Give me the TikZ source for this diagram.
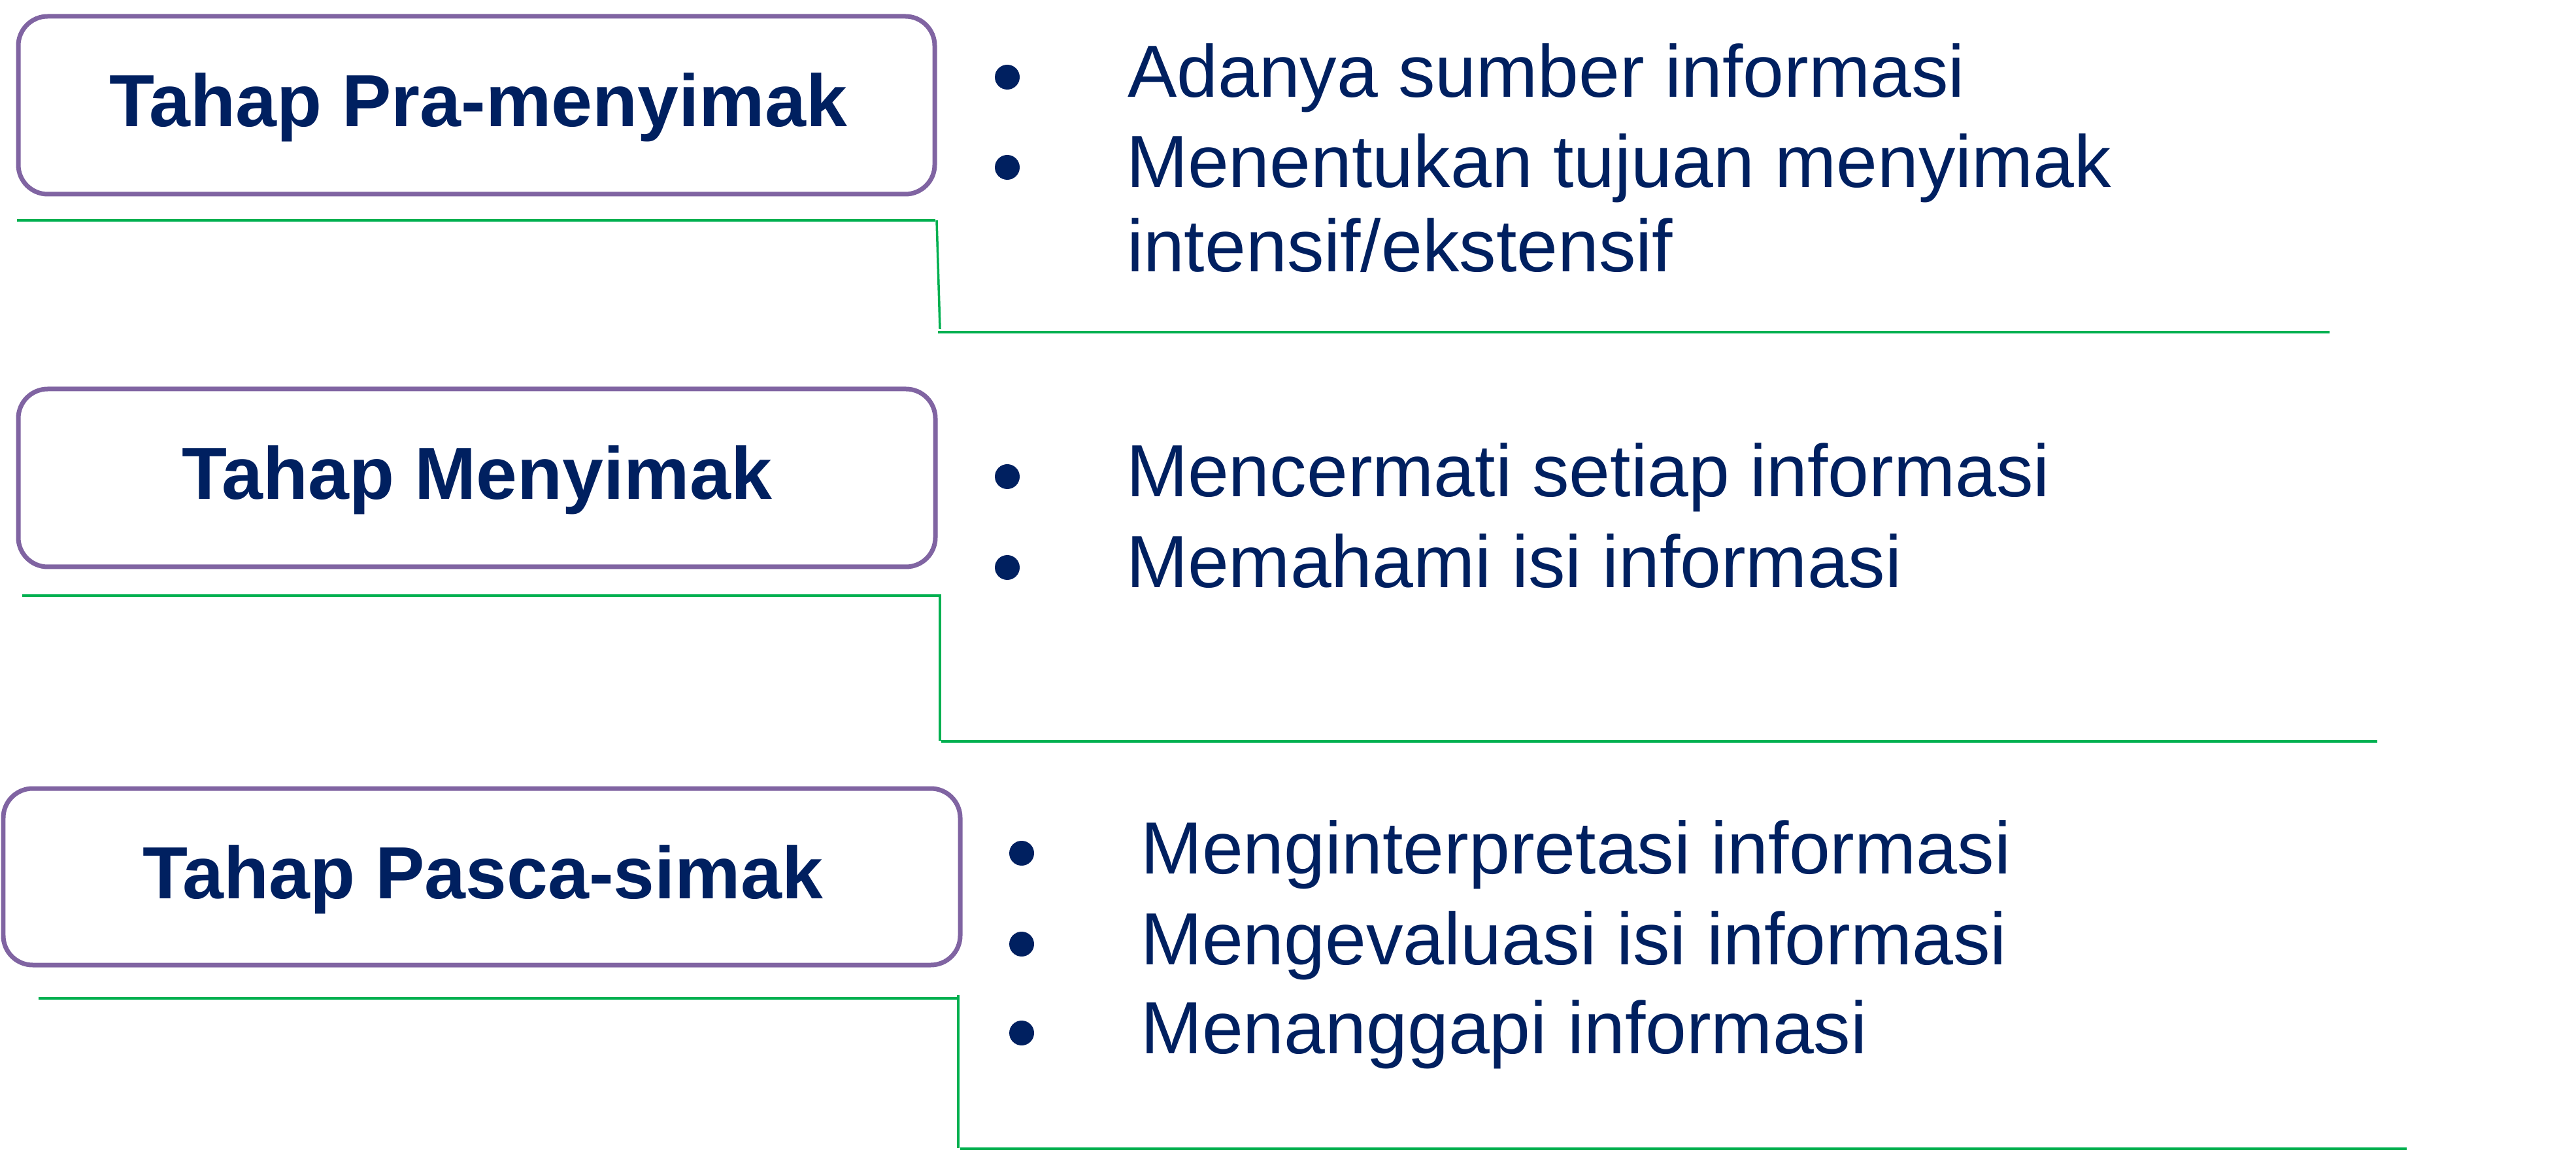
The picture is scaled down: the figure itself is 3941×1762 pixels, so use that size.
\documentclass[tikz,border=0pt]{standalone}
\usepackage{fontspec}
\setmainfont{Liberation Sans}
\definecolor{navy}{RGB}{0,32,96}
\definecolor{boxpurple}{RGB}{128,100,162}
\definecolor{linegreen}{RGB}{0,176,80}
\begin{document}
\begin{tikzpicture}[x=0.1pt,y=-0.1pt,
  stagebox/.style={draw=boxpurple,line width=0.7pt,rounded corners=4.5pt,fill=white},
  stagetitle/.style={anchor=base,inner sep=0pt,text=navy,font=\fontsize{11.3}{13}\bfseries\selectfont},
  itemtext/.style={anchor=base west,inner sep=0pt,text=navy,font=\fontsize{11.3}{13}\selectfont},
  bulletdot/.style={circle,fill=navy,inner sep=0pt,minimum size=3.8pt},
  divider/.style={draw=linegreen,line width=0.35pt}]
\useasboundingbox (0,0) rectangle (3941,1762);
\fill[white] (0,0) rectangle (3941,1762);

% stage boxes
\draw[stagebox] (28,25) rectangle (1430,297);
\draw[stagebox] (28,595) rectangle (1431,867);
\draw[stagebox] (5,1206) rectangle (1469,1476);

\node[stagetitle] (t1) at (732,194) {Tahap Pra-menyimak};
\node[stagetitle] (t2) at (730,764) {Tahap Menyimak};
\node[stagetitle] (t3) at (739,1374) {Tahap Pasca-simak};

% divider lines
\coordinate (a1) at (26,337);
\coordinate (a2) at (1431,337);
\coordinate (a3) at (1433,337);
\coordinate (a4) at (1438,503);
\coordinate (a5) at (1435,508);
\coordinate (a6) at (3564,508);
\draw[divider] (a1) -- (a2);
\draw[divider] (a3) -- (a4);
\draw[divider] (a5) -- (a6);

\coordinate (b1) at (34,911);
\coordinate (b2) at (1438,911);
\coordinate (b3) at (1438,1133);
\coordinate (b4) at (1440,1134);
\coordinate (b5) at (3637,1134);
\draw[divider] (b1) -- (b2) -- (b3);
\draw[divider] (b4) -- (b5);

\coordinate (c1) at (59,1527);
\coordinate (c2) at (1464,1527);
\coordinate (c3) at (1466,1522);
\coordinate (c4) at (1466,1756);
\coordinate (c5) at (1469,1757);
\coordinate (c6) at (3682,1757);
\draw[divider] (c1) -- (c2);
\draw[divider] (c3) -- (c4);
\draw[divider] (c5) -- (c6);

% bullets and items, stage 1
\node[bulletdot] (d11) at (1541,118) {};
\node[bulletdot] (d12) at (1541,256) {};
\node[itemtext] (i11) at (1723,149) {Adanya sumber informasi};
\node[itemtext] (i12) at (1721,287) {Menentukan tujuan menyimak};
\node[itemtext] (i13) at (1722,416) {intensif/ekstensif};

% stage 2
\node[bulletdot] (d21) at (1541,729) {};
\node[bulletdot] (d22) at (1541,868) {};
\node[itemtext] (i21) at (1721,760) {Mencermati setiap informasi};
\node[itemtext] (i22) at (1721,899) {Memahami isi informasi};

% stage 3
\node[bulletdot] (d31) at (1563,1305) {};
\node[bulletdot] (d32) at (1563,1444) {};
\node[bulletdot] (d33) at (1563,1580) {};
\node[itemtext] (i31) at (1743,1336) {Menginterpretasi informasi};
\node[itemtext] (i32) at (1743,1475) {Mengevaluasi isi informasi};
\node[itemtext] (i33) at (1743,1611) {Menanggapi informasi};
\end{tikzpicture}
\end{document}
